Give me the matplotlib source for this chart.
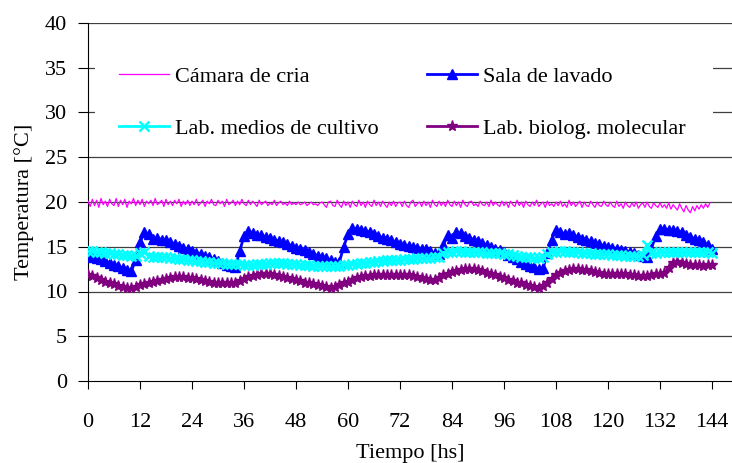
import numpy as np
import matplotlib
matplotlib.use("Agg")
import matplotlib.pyplot as plt
import matplotlib.patches as mpatches

plt.rcParams['font.family'] = ['Liberation Serif', 'DejaVu Serif']
plt.rcParams['font.size'] = 16

# hourly readings, 0..144 hs
hours = list(range(0, 145))

# Sala de lavado
lavado = [
    14.0, 13.9, 13.7, 13.6, 13.4, 13.2, 13.0, 12.8, 12.6, 12.4, 12.3, 13.5,
    15.5, 16.6, 16.4, 15.9, 16.0, 15.8, 15.7, 15.5, 15.3, 15.1, 14.9, 14.7,
    14.5, 14.3, 14.2, 14.0, 13.8, 13.6, 13.4, 13.2, 13.0, 12.8, 12.7, 14.5,
    16.2, 16.8, 16.5, 16.3, 16.3, 16.1, 16.0, 15.8, 15.6, 15.5, 15.3, 15.1,
    14.9, 14.7, 14.6, 14.4, 14.2, 14.0, 13.8, 13.7, 13.5, 13.3, 13.3, 15.0,
    16.4, 17.1, 17.0, 16.9, 16.8, 16.6, 16.4, 16.2, 16.0, 15.9, 15.7, 15.5,
    15.3, 15.2, 15.1, 15.0, 14.9, 14.8, 14.7, 14.5, 14.3, 14.2, 15.2, 16.3,
    16.0, 16.6, 16.5, 16.2, 16.0, 15.8, 15.6, 15.4, 15.2, 15.0, 14.8, 14.6,
    14.4, 14.1, 13.8, 13.6, 13.3, 13.1, 12.9, 12.7, 12.5, 12.6, 14.3, 15.8,
    16.9, 16.7, 16.4, 16.5, 16.3, 16.1, 15.9, 15.8, 15.6, 15.4, 15.3, 15.1,
    15.0, 14.9, 14.8, 14.6, 14.5, 14.4, 14.3, 14.1, 14.0, 13.9, 14.8, 16.2,
    17.0, 17.0, 16.9, 16.9, 16.8, 16.6, 16.3, 16.1, 15.9, 15.7, 15.5, 15.2,
    14.7,
]

# Lab. medios de cultivo
medios = [
    14.5, 14.5, 14.4, 14.4, 14.3, 14.3, 14.2, 14.2, 14.1, 14.1, 14.0, 14.0,
    14.3, 14.4, 14.0, 13.9, 13.9, 13.8, 13.8, 13.7, 13.7, 13.6, 13.6, 13.5,
    13.5, 13.4, 13.4, 13.3, 13.3, 13.2, 13.2, 13.2, 13.1, 13.1, 13.1, 13.1,
    13.0, 13.0, 13.0, 13.1, 13.1, 13.1, 13.2, 13.2, 13.2, 13.2, 13.1, 13.1,
    13.1, 13.0, 13.0, 13.0, 12.9, 12.9, 12.9, 12.9, 12.8, 12.8, 12.9, 13.0,
    13.0, 13.1, 13.1, 13.2, 13.2, 13.3, 13.3, 13.4, 13.4, 13.5, 13.5, 13.5,
    13.5, 13.6, 13.6, 13.6, 13.7, 13.7, 13.7, 13.7, 13.8, 13.9, 14.3, 14.4,
    14.4, 14.5, 14.5, 14.4, 14.4, 14.4, 14.4, 14.4, 14.3, 14.3, 14.3, 14.3,
    14.2, 14.2, 14.1, 14.0, 13.9, 13.9, 13.8, 13.7, 13.7, 13.8, 14.2, 14.4,
    14.4, 14.5, 14.5, 14.4, 14.4, 14.4, 14.3, 14.3, 14.3, 14.2, 14.2, 14.2,
    14.2, 14.1, 14.1, 14.1, 14.0, 14.0, 14.0, 14.0, 14.1, 15.2, 14.3, 14.3,
    14.4, 14.4, 14.4, 14.4, 14.4, 14.4, 14.4, 14.4, 14.4, 14.4, 14.4, 14.4,
    14.3,
]

# Lab. biolog. molecular
molecular = [
    11.8, 11.7, 11.5, 11.3, 11.1, 10.9, 10.8, 10.6, 10.5, 10.4, 10.4, 10.5,
    10.7, 10.8, 11.0, 11.1, 11.2, 11.3, 11.4, 11.5, 11.6, 11.6, 11.6, 11.5,
    11.5, 11.4, 11.3, 11.2, 11.1, 11.0, 11.0, 10.9, 10.9, 10.9, 11.0, 11.2,
    11.4, 11.6, 11.7, 11.8, 11.9, 11.9, 11.9, 11.8, 11.7, 11.6, 11.5, 11.4,
    11.3, 11.2, 11.0, 10.9, 10.8, 10.7, 10.6, 10.5, 10.4, 10.5, 10.7, 10.9,
    11.1, 11.3, 11.5, 11.6, 11.7, 11.7, 11.8, 11.8, 11.8, 11.8, 11.8, 11.8,
    11.8, 11.8, 11.8, 11.7, 11.6, 11.5, 11.4, 11.3, 11.3, 11.5, 11.8, 12.0,
    12.2, 12.3, 12.4, 12.5, 12.5, 12.5, 12.4, 12.3, 12.1, 11.9, 11.8, 11.6,
    11.5, 11.3, 11.2, 11.0, 10.9, 10.7, 10.6, 10.5, 10.4, 10.6, 11.0, 11.4,
    11.8, 12.1, 12.3, 12.4, 12.5, 12.5, 12.4, 12.4, 12.3, 12.2, 12.1, 12.0,
    12.0, 12.0, 12.0, 11.9, 11.9, 11.8, 11.8, 11.7, 11.7, 11.7, 11.8, 11.9,
    12.0, 12.1, 12.6, 13.2, 13.3, 13.2, 13.1, 13.0, 13.0, 13.0, 12.9, 13.0,
    13.0,
]

# Camara de cria, read every half hour (0..143.5 hs)
camara_t = [h / 2 for h in range(0, 288)]
camara = [
    20.1, 19.5, 20.3, 19.6, 20.2, 19.4, 20.4, 19.7, 20.1, 19.5, 20.3, 19.8,
    19.6, 20.4, 19.5, 20.2, 19.7, 20.3, 19.4, 20.1, 19.8, 20.4, 19.6, 20.2,
    19.7, 20.3, 19.5, 20.1, 19.8, 20.2, 19.6, 20.4, 19.7, 19.9, 20.2, 19.5,
    20.3, 19.7, 20.1, 19.6, 20.2, 19.8, 20.3, 19.5, 20.1, 19.7, 20.2, 19.6,
    20.1, 19.7, 20.3, 19.6, 19.9, 20.2, 19.5, 20.1, 19.8, 20.3, 19.7, 19.6,
    20.2, 19.8, 20.1, 19.5, 20.3, 19.7, 19.9, 20.2, 19.6, 20.1, 19.7, 20.3,
    19.8, 19.6, 20.2, 19.7, 20.1, 19.8, 19.5, 20.2, 19.7, 19.9, 20.1, 19.6,
    19.9, 19.7, 20.2, 19.6, 19.9, 20.1, 19.7, 19.9, 19.6, 20.1, 19.7, 19.9,
    19.7, 20.0, 19.7, 19.8, 20.0, 19.6, 19.8, 20.0, 19.7, 19.8, 19.6, 19.9,
    20.0, 19.7, 19.4, 20.0, 20.1, 19.6, 19.5, 20.2, 19.7, 19.4, 20.1, 19.6,
    20.0, 19.4, 20.1, 19.7, 19.5, 20.2, 19.6, 20.0, 19.4, 20.1, 19.7, 19.5,
    20.2, 19.6, 20.0, 19.5, 20.1, 19.7, 19.4, 20.0, 19.6, 20.1, 19.5, 19.9,
    20.0, 19.5, 20.1, 19.6, 19.4, 20.0, 20.2, 19.5, 19.8, 20.0, 19.5, 20.1,
    19.6, 20.0, 19.4, 20.2, 19.7, 19.5, 20.1, 19.6, 20.0, 19.5, 20.2, 19.7,
    19.5, 20.1, 19.6, 20.0, 19.4, 20.2, 19.7, 19.5, 20.0, 20.1, 19.6, 19.8,
    19.5, 20.1, 19.7, 19.6, 20.0, 19.5, 20.2, 19.6, 20.0, 19.7, 19.5, 20.1,
    19.6, 20.0, 19.4, 20.1, 19.7, 19.5, 20.2, 19.6, 20.0, 19.4, 20.1, 19.7,
    19.5, 20.0, 19.6, 20.2, 19.5, 19.8, 20.0, 19.4, 20.1, 19.6, 19.8, 19.5,
    20.0, 19.6, 20.1, 19.5, 19.8, 19.4, 20.2, 19.6, 20.0, 19.5, 19.8, 20.1,
    19.4, 20.0, 19.6, 19.5, 20.1, 19.7, 19.4, 20.0, 19.6, 19.5, 20.1, 19.7,
    19.5, 20.0, 19.6, 19.4, 20.1, 19.5, 19.8, 19.3, 20.0, 19.6, 19.4, 19.9,
    19.5, 20.0, 19.3, 19.7, 19.9, 19.4, 20.0, 19.5, 19.3, 19.9, 19.6, 19.4,
    19.9, 19.4, 19.7, 19.3, 19.9, 19.2, 19.7, 19.4, 19.1, 19.8, 19.3, 18.9,
    19.6, 19.1, 18.8, 19.5, 19.0, 19.6, 19.2, 19.7, 19.3, 19.8, 19.4, 19.9,
]

xticks = list(range(0, 145, 12))
yticks = list(range(0, 41, 5))

fig = plt.figure(figsize=(7.32, 4.63), dpi=100)
ax = fig.add_axes([88 / 732, 1 - 381 / 463, 1 - 88 / 732, (381 - 23) / 463])

# horizontal grid
for y in yticks[1:]:
    ax.axhline(y, color='#404040', lw=0.9, zorder=0)

l1, = ax.plot(camara_t, camara, color='#FF00FF', lw=0.9, label='Cámara de cria', zorder=3)
l2, = ax.plot(hours, lavado, color='#0000FF', lw=2, marker='^', ms=7,
              label='Sala de lavado', zorder=4)
l3, = ax.plot(hours, medios, color='#00FFFF', lw=2, marker='x', ms=7, mew=1.8,
              label='Lab. medios de cultivo', zorder=5)
l4, = ax.plot(hours, molecular, color='#800080', lw=2, marker='*', ms=8,
              label='Lab. biolog. molecular', zorder=4)

ax.set_xlim(0, 148.6)
ax.set_ylim(0, 40)
ax.set_xticks(xticks)
ax.set_yticks(yticks)
ax.tick_params(axis='x', direction='out', length=6, pad=17, color='black')
ax.tick_params(axis='y', direction='out', length=7, pad=8, color='black')
ax.spines['top'].set_visible(False)
ax.spines['right'].set_visible(False)
ax.spines['left'].set_color('black')
ax.spines['bottom'].set_color('black')

ax.set_xlabel('Tiempo [hs]', labelpad=9)
ax.set_ylabel('Temperatura [°C]', labelpad=8)

# white legend box hiding the grid
box = mpatches.Rectangle((7 / 644, (381 - 150) / 358), (713 - 95) / 644, 115 / 358,
                         transform=ax.transAxes, facecolor='white', edgecolor='none',
                         zorder=1)
ax.add_patch(box)

leg = ax.legend(handles=[l1, l3, l2, l4], ncol=2, loc='center',
                bbox_to_anchor=(0.488, 0.778), frameon=False,
                handlelength=2.25, handletextpad=0.25, columnspacing=2.2,
                labelspacing=1.4, numpoints=1, borderpad=0.3)
leg.set_zorder(6)

fig.savefig('out.png', dpi=100)
